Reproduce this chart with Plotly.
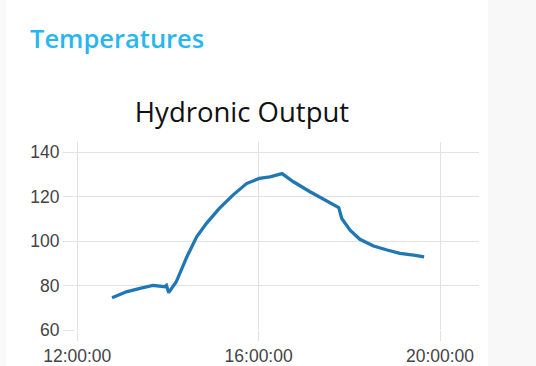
import plotly.graph_objects as go

times = ["12:46", "13:05", "13:23", "13:40", "13:56", "13:58", "14:01", "14:11",
         "14:25", "14:38", "14:51", "15:08", "15:26", "15:44", "16:01", "16:15",
         "16:31", "16:46", "17:08", "17:30", "17:46", "17:50", "18:01", "18:14",
         "18:32", "18:50", "19:07", "19:25", "19:39"]
values = [74.5, 77.2, 78.7, 80.1, 79.5, 80.1, 76.8, 81.7,
          92.9, 101.9, 108.0, 114.7, 120.7, 125.9, 128.2, 128.9,
          130.4, 126.7, 122.2, 118.1, 115.1, 110.2, 104.9, 100.8,
          97.8, 96.0, 94.5, 93.7, 92.9]
tick_times = ["12:00", "16:00", "20:00"]
y_ticks = [60, 80, 100, 120, 140]

day = "2024-01-01 "
x = [day + t + ":00" for t in times]
xticks = [day + t + ":00" for t in tick_times]

W, H = 536, 366
L, R, T, B = 75, 479, 142, 330
pw, ph = R - L, B - T

fig = go.Figure(go.Scatter(x=x, y=values, mode="lines",
                           line=dict(color="#1f77b4", width=3.3)))

grid = "#e2e2e2"
fig.update_layout(
    width=W, height=H, autosize=False,
    margin=dict(l=L, r=W - R, t=T, b=H - B, autoexpand=False),
    paper_bgcolor="white", plot_bgcolor="white",
    showlegend=False,
    font=dict(family="Liberation Sans, Arial", color="#444", size=17),
    title=dict(text="Hydronic Output", xref="container", yref="container",
               x=242 / W, y=1 - 112 / H, xanchor="center", yanchor="middle",
               font=dict(family="Open Sans", size=27.5, color="#111")),
    xaxis=dict(type="date", range=[day + "11:57:00", day + "20:51:36"],
               tickvals=xticks, tickformat="%H:%M:%S", automargin=False,
               showgrid=True, gridcolor=grid, gridwidth=1,
               ticks="outside", ticklen=10, tickcolor=grid,
               showline=False, zeroline=False,
               tickfont=dict(size=17.5, color="#444")),
    yaxis=dict(range=[60, 144.6], tickvals=y_ticks, automargin=False,
               showgrid=True, gridcolor=grid, gridwidth=1,
               ticks="outside", ticklen=11, tickcolor=grid,
               showline=False, zeroline=False,
               tickfont=dict(size=17.5, color="#444")),
    shapes=[
        dict(type="rect", xref="paper", yref="paper",
             x0=(488 - L) / pw, x1=(540 - L) / pw,
             y0=-(H - B + 5) / ph, y1=1 + (T + 5) / ph,
             fillcolor="#f8f8f8", line=dict(width=0), layer="below"),
        dict(type="rect", xref="paper", yref="paper",
             x0=(-5 - L) / pw, x1=(6 - L) / pw,
             y0=-(H - B + 5) / ph, y1=1 + (T + 5) / ph,
             fillcolor="#f9f9f9", line=dict(width=0), layer="below"),
    ],
    annotations=[
        dict(text="Temperatures", xref="paper", yref="paper",
             x=(28 - L) / pw, y=(B - 38) / ph, xanchor="left", yanchor="middle",
             showarrow=False,
             font=dict(family="Open Sans", size=25.5, color="#27b6ef", weight=600)),
    ],
)

fig.write_html(
    "out.html",
    config={"displayModeBar": False, "responsive": False},
    post_script=("document.documentElement.style.margin='0';"
                 "document.documentElement.style.overflow='hidden';"
                 "document.body.style.margin='0';document.body.style.padding='0';"
                 "document.body.style.overflow='hidden';"),
)
